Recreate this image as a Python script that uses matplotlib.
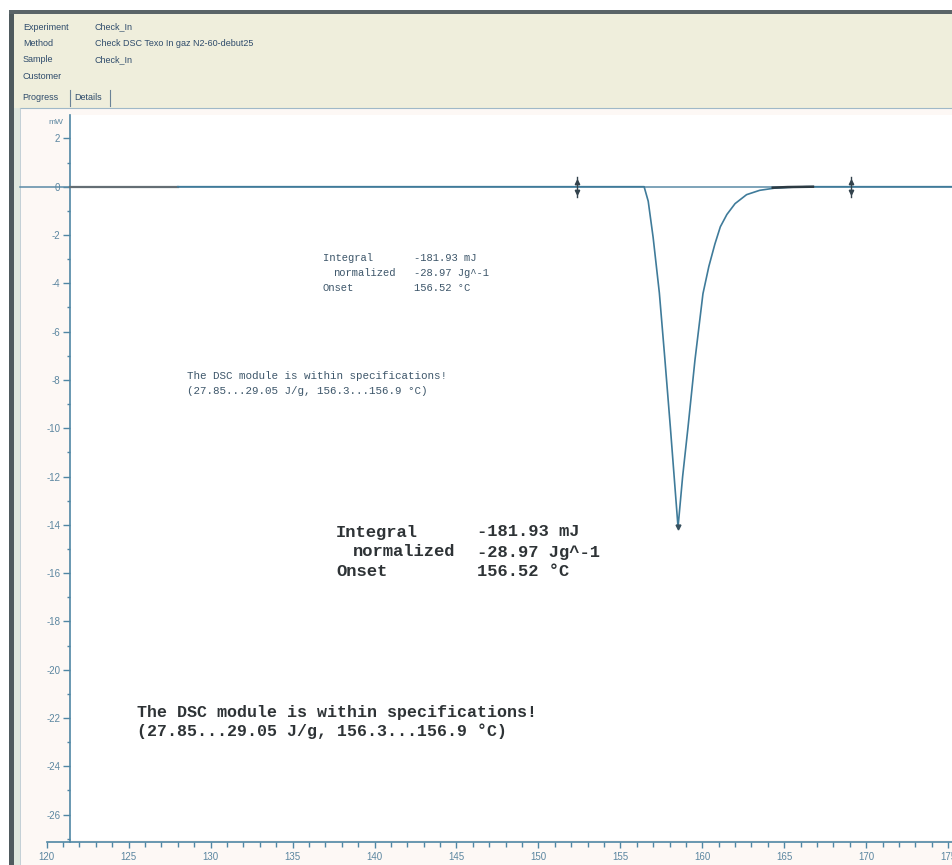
import matplotlib
matplotlib.use('Agg')
import matplotlib.pyplot as plt
from matplotlib.patches import Rectangle
from matplotlib.lines import Line2D
from matplotlib.ticker import MultipleLocator

plt.rcParams['axes.unicode_minus'] = False

W, H = 953, 865

# DSC curve (temperature in C, heat flow in mW)
temp = [128.0, 140.0, 150.0, 156.45, 156.7, 157.0, 157.38, 157.7, 158.05, 158.52,
        158.8, 159.13, 159.55, 160.04, 160.4, 160.77, 161.1, 161.5, 162.0, 162.7,
        163.5, 164.4, 165.5, 166.35, 170.0, 175.3]
heat = [0.0, 0.0, 0.0, 0.0, -0.6, -2.1, -4.4, -7.0, -9.95, -14.1,
        -12.0, -9.95, -7.19, -4.43, -3.3, -2.37, -1.66, -1.15, -0.7, -0.33,
        -0.15, -0.06, -0.02, 0.0, 0.0, 0.0]
start_temp = [121.42, 128.0]
start_heat = [0.0, 0.0]
tail_temp = [164.3, 165.2, 166.75]
tail_heat = [-0.04, -0.015, 0.0]
limits = [152.36, 169.07]   # integration limit markers

yticks = list(range(-26, 3, 2))
xticks = list(range(120, 176, 5))

header_keys = ['Experiment', 'Method', 'Sample', 'Customer']
header_vals = ['Check_In', 'Check DSC Texo In gaz N2-60-debut25', 'Check_In', '']
tabs = ['Progress', 'Details']

res_labels = ['Integral', 'normalized', 'Onset']
res_values = ['-181.93 mJ', '-28.97 Jg^-1', '156.52 °C']
spec_lines = ['The DSC module is within specifications!',
              '(27.85...29.05 J/g, 156.3...156.9 °C)']


def fx(x):
    return x / W


def fy(y):
    return 1 - y / H


fig = plt.figure(figsize=(W / 100, H / 100), dpi=100)
fig.patch.set_facecolor('#fdf8f5')

# window chrome
fig.patches.append(Rectangle((0, fy(10)), 1, 10 / H, transform=fig.transFigure,
                             facecolor='white', edgecolor='none', zorder=0))
fig.patches.append(Rectangle((0, 0), fx(9), 1, transform=fig.transFigure,
                             facecolor='white', edgecolor='none', zorder=0))
fig.patches.append(Rectangle((fx(9), 0), fx(5), fy(10), transform=fig.transFigure,
                             facecolor='#4f5a5e', edgecolor='none', zorder=1))
fig.patches.append(Rectangle((fx(9), fy(14)), 1, 4 / H, transform=fig.transFigure,
                             facecolor='#5a6468', edgecolor='none', zorder=1))
fig.patches.append(Rectangle((fx(14), 0), fx(6), fy(108), transform=fig.transFigure,
                             facecolor='#dfe7de', edgecolor='none', zorder=1))
fig.patches.append(Rectangle((fx(14), fy(108)), 1, 94 / H, transform=fig.transFigure,
                             facecolor='#efeedc', edgecolor='none', zorder=1))
fig.patches.append(Rectangle((fx(70), fy(840)), 1, (840 - 115) / H, transform=fig.transFigure,
                             facecolor='white', edgecolor='none', zorder=1))
fig.lines.append(Line2D([fx(20), 1], [fy(108), fy(108)], transform=fig.transFigure,
                        color='#9fb8c8', lw=0.8, zorder=2))
fig.lines.append(Line2D([fx(20), fx(20)], [0, fy(108)], transform=fig.transFigure,
                        color='#b9c9d0', lw=0.6, zorder=2))

hdr_color = '#2e4b6b'
for i, (k, v) in enumerate(zip(header_keys, header_vals)):
    y = 27 + i * 16.5
    fig.text(fx(23), fy(y), k, fontsize=6.5, family='Liberation Sans',
             color=hdr_color, va='center', zorder=3)
    fig.text(fx(95), fy(y), v, fontsize=6.5, family='Liberation Sans',
             color=hdr_color, va='center', zorder=3)
fig.text(fx(22), fy(98), tabs[0], fontsize=6.5, family='Liberation Sans',
         color=hdr_color, va='center', zorder=3)
fig.text(fx(74), fy(98), tabs[1], fontsize=6.5, family='Liberation Sans',
         color=hdr_color, va='center', zorder=3)
for sx in (70, 110):
    fig.lines.append(Line2D([fx(sx), fx(sx)], [fy(106), fy(90)], transform=fig.transFigure,
                            color='#6a8296', lw=0.8, zorder=3))

# plot axes: x=120 sits at px 46.7, 16.39 px per degree; y=0 at px 186.7, 24.15 px per mW
ax = fig.add_axes([fx(46.7), fy(842), 1 - fx(46.7), (842 - 115) / H])
ax.set_facecolor('none')
ax.set_zorder(5)
ax.set_xlim(120, 120 + (W - 46.7) / 16.39)
ax.set_ylim(-(842 - 186.7) / 24.15, (186.7 - 115) / 24.15)

axis_color = '#4f86a4'
tick_color = '#5b86a0'
for s in ('top', 'right'):
    ax.spines[s].set_visible(False)
ax.spines['left'].set_position(('data', 121.42))
ax.spines['left'].set_color(axis_color)
ax.spines['bottom'].set_color(axis_color)
ax.spines['left'].set_linewidth(1.2)
ax.spines['bottom'].set_linewidth(1.2)

ax.set_yticks(yticks)
ax.yaxis.set_minor_locator(MultipleLocator(1))
ax.set_xticks(xticks)
ax.xaxis.set_minor_locator(MultipleLocator(1))
ax.tick_params(axis='y', which='major', direction='out', length=5, width=1,
               color=axis_color, labelcolor=tick_color, labelsize=7, pad=2)
ax.tick_params(axis='y', which='minor', direction='out', length=2.5, width=1,
               color=axis_color)
ax.tick_params(axis='x', which='major', direction='out', length=4.5, width=1,
               color=axis_color, labelcolor=tick_color, labelsize=7, pad=3)
ax.tick_params(axis='x', which='minor', direction='out', length=3.5, width=1,
               color=axis_color)
for lab in ax.get_xticklabels() + ax.get_yticklabels():
    lab.set_family('Liberation Sans')

fig.text(fx(48), fy(122), 'mW', fontsize=6, family='Liberation Sans',
         color=tick_color, va='center', zorder=6)

# zero line across the panel, then the curve
ax.axhline(0, xmin=-0.03, xmax=1, color='#5a8aa6', lw=1.1, clip_on=False, zorder=2)
ax.plot(start_temp, start_heat, color='#646e74', lw=1.6, zorder=3)
ax.plot(temp, heat, color='#3f7b9a', lw=1.2, zorder=4)
ax.plot(tail_temp, tail_heat, color='#2c3a42', lw=1.8, zorder=4)
ax.plot([temp[9]], [heat[9]], marker='v', ms=3.5, color='#38505e', zorder=5)

for lx in limits:
    ax.plot([lx, lx], [-0.42, 0.42], color='#33434d', lw=1.0, zorder=5)
    ax.plot([lx], [0.2], marker='^', ms=3.2, color='#33434d', zorder=5)
    ax.plot([lx], [-0.2], marker='v', ms=3.2, color='#33434d', zorder=5)

# result texts (small and large copies)
small_c = '#3d566a'
big_c = '#2e3336'
mono = 'Liberation Mono'
for i, (lab, val) in enumerate(zip(res_labels, res_values)):
    y = 258 + i * 15
    x0 = 333 if i == 1 else 323
    fig.text(fx(x0), fy(y), lab, fontsize=7.6, family=mono, color=small_c, va='center', zorder=6)
    fig.text(fx(414), fy(y), val, fontsize=7.6, family=mono, color=small_c, va='center', zorder=6)
for i, line in enumerate(spec_lines):
    fig.text(fx(187), fy(376 + i * 15), line, fontsize=7.8, family=mono, color=small_c,
             va='center', zorder=6)

big_y = [532, 552, 572]
for i, (lab, val) in enumerate(zip(res_labels, res_values)):
    x0 = 353 if i == 1 else 336
    fig.text(fx(x0), fy(big_y[i]), lab, fontsize=12.3, family=mono, color=big_c,
             fontweight='bold', va='center', zorder=6)
    fig.text(fx(477), fy(big_y[i]), val, fontsize=12.3, family=mono, color=big_c,
             fontweight='bold', va='center', zorder=6)
for i, line in enumerate(spec_lines):
    fig.text(fx(137), fy(712 + i * 19), line, fontsize=12, family=mono, color=big_c,
             fontweight='bold', va='center', zorder=6)

fig.savefig('out.png', dpi=100, facecolor=fig.get_facecolor())
